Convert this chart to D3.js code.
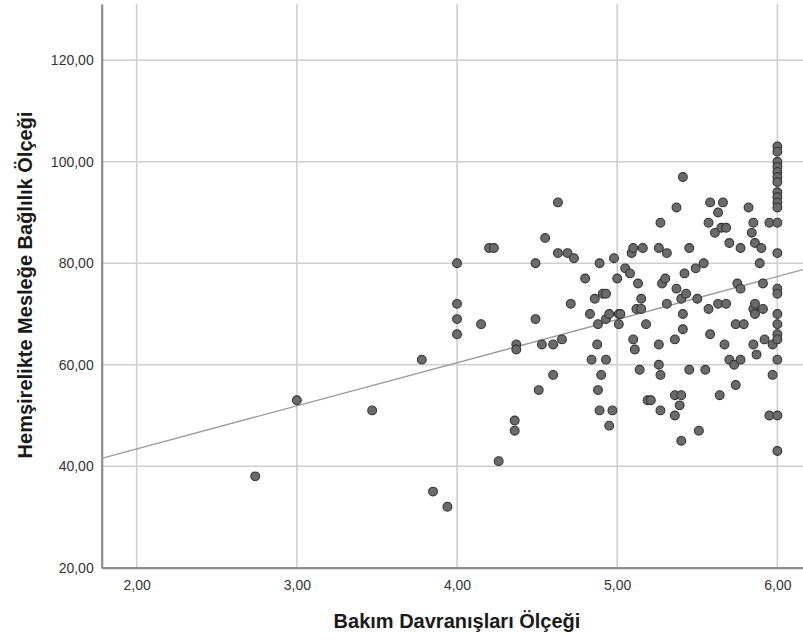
<!DOCTYPE html>
<html>
<head>
<meta charset="utf-8">
<script src="https://d3js.org/d3.v7.min.js"></script>
<style>
  body { margin: 0; background: #fff; }
  svg { display: block; }
</style>
</head>
<body>
<script>
// Bakım Davranışları Ölçeği (x) vs Hemşirelikte Mesleğe Bağlılık Ölçeği (y)
var bakim = [2.74, 3.00, 3.47, 3.78, 3.85, 3.94,
  4.00, 4.00, 4.00, 4.00, 4.15, 4.20, 4.23, 4.26,
  4.36, 4.36, 4.37, 4.37, 4.49, 4.49, 4.51, 4.53, 4.55,
  4.60, 4.60, 4.63, 4.63, 4.655, 4.69, 4.71, 4.73,
  4.80, 4.83, 4.84, 4.86, 4.875, 4.88, 4.88, 4.89, 4.89, 4.90,
  4.91, 4.93, 4.93, 4.93, 4.95, 4.95, 4.97, 4.98,
  5.00, 5.01, 5.02, 5.01, 5.05, 5.08, 5.09, 5.10, 5.10, 5.11,
  5.12, 5.15, 5.15, 5.13, 5.14, 5.16, 5.18, 5.19, 5.21,
  5.26, 5.26, 5.26, 5.27, 5.27, 5.27, 5.28, 5.30,
  5.31, 5.31, 5.36, 5.36, 5.36, 5.37, 5.37, 5.39, 5.40, 5.40, 5.40,
  5.41, 5.41, 5.41, 5.42, 5.43, 5.45, 5.45,
  5.49, 5.50, 5.51, 5.54, 5.55, 5.57, 5.57, 5.58, 5.58,
  5.61, 5.63, 5.63, 5.64, 5.65, 5.66, 5.67, 5.68, 5.68,
  5.70, 5.70, 5.73, 5.74, 5.74, 5.75, 5.77, 5.77, 5.77, 5.79,
  5.82, 5.84, 5.85, 5.85, 5.85, 5.86, 5.86, 5.86, 5.87,
  5.89, 5.90, 5.91, 5.91, 5.92, 5.95, 5.95, 5.97, 5.97,
  6, 6, 6, 6, 6, 6, 6, 6, 6, 6, 6, 6, 6, 6, 6, 6, 6, 6, 6, 6, 6, 6];

var baglilik = [38, 53, 51, 61, 35, 32,
  80, 72, 69, 66, 68, 83, 83, 41,
  49, 47, 64, 63, 80, 69, 55, 64, 85,
  64, 58, 92, 82, 65, 82, 72, 81,
  77, 70, 61, 73, 64, 68, 55, 80, 51, 58,
  74, 74, 69, 61, 70, 48, 51, 81,
  77, 70, 70, 68, 79, 78, 82, 83, 65, 63,
  71, 71, 73, 76, 59, 83, 68, 53, 53,
  83, 64, 60, 58, 51, 88, 76, 77,
  82, 72, 65, 54, 50, 91, 75, 52, 54, 73, 45,
  97, 70, 67, 78, 74, 83, 59,
  79, 73, 47, 80, 59, 88, 71, 92, 66,
  86, 90, 72, 54, 87, 92, 64, 87, 72,
  84, 61, 60, 68, 56, 76, 75, 83, 61, 68,
  91, 86, 88, 71, 64, 84, 72, 70, 62,
  80, 83, 76, 71, 65, 88, 50, 64, 58,
  103, 102, 100, 99, 98, 97, 96, 94, 93, 92, 91, 88, 82, 75, 74, 70, 68, 66, 65, 61, 50, 43];

var xTicks = [2, 3, 4, 5, 6];
var yTicks = [20, 40, 60, 80, 100, 120];

// fit line: y = a + b*x
var lineA = 26.4;
var lineB = 8.5;

var width = 803, height = 642;
var margin = {top: 4, right: 0, bottom: 74.3, left: 101.7};

var svg = d3.select("body").append("svg")
  .attr("width", width)
  .attr("height", height);

var x = d3.scaleLinear()
  .domain([1.7815, 6.16])
  .range([margin.left, width - margin.right]);

var y = d3.scaleLinear()
  .domain([20, 131.1])
  .range([height - margin.bottom, margin.top]);

var fmt = function(d) { return d3.format(".2f")(d).replace(".", ","); };

// grid
svg.append("g").selectAll("line")
  .data(xTicks).join("line")
  .attr("x1", d => x(d)).attr("x2", d => x(d))
  .attr("y1", y.range()[0]).attr("y2", y.range()[1])
  .attr("stroke", "#cfcfcf").attr("stroke-width", 1.6);

svg.append("g").selectAll("line")
  .data(yTicks).join("line")
  .attr("y1", d => y(d)).attr("y2", d => y(d))
  .attr("x1", x.range()[0]).attr("x2", x.range()[1])
  .attr("stroke", "#cfcfcf").attr("stroke-width", 1.6);

// axes
var ejeX = d3.axisBottom(x).tickValues(xTicks).tickSize(0).tickPadding(12).tickFormat(fmt);
var gx = svg.append("g")
  .attr("transform", "translate(0," + y(20) + ")")
  .call(ejeX);
gx.select(".domain").attr("stroke", "#8c8c8c").attr("stroke-width", 2.2);

var ejeY = d3.axisLeft(y).tickValues(yTicks).tickSize(0).tickPadding(8).tickFormat(fmt);
var gy = svg.append("g")
  .attr("transform", "translate(" + margin.left + ",0)")
  .call(ejeY);
gy.select(".domain").attr("stroke", "#8c8c8c").attr("stroke-width", 2.2);

svg.selectAll(".tick text")
  .attr("fill", "#333")
  .style("font-family", "Arial, 'Liberation Sans', sans-serif")
  .style("font-size", "14px");

// fit line
var x0 = x.domain()[0], x1 = x.domain()[1];
svg.append("line")
  .attr("x1", x(x0)).attr("y1", y(lineA + lineB * x0))
  .attr("x2", x(x1)).attr("y2", y(lineA + lineB * x1))
  .attr("stroke", "#9a9a9a").attr("stroke-width", 1.4);

// points
var puntos = bakim.map((d, i) => ({b: d, h: baglilik[i]}));
svg.append("g").selectAll("circle")
  .data(puntos).join("circle")
  .attr("cx", d => x(d.b))
  .attr("cy", d => y(d.h))
  .attr("r", 4.4)
  .attr("fill", "#6b6b6b")
  .attr("stroke", "#333")
  .attr("stroke-width", 1.1);

// titles
svg.append("text")
  .attr("x", 457).attr("y", 628)
  .attr("text-anchor", "middle")
  .style("font-family", "Arial, 'Liberation Sans', sans-serif")
  .style("font-weight", "bold").style("font-size", "20px")
  .attr("fill", "#1a1a1a")
  .text("Bakım Davranışları Ölçeği");

svg.append("text")
  .attr("transform", "translate(32,285) rotate(-90)")
  .attr("text-anchor", "middle")
  .style("font-family", "Arial, 'Liberation Sans', sans-serif")
  .style("font-weight", "bold").style("font-size", "20px")
  .attr("fill", "#1a1a1a")
  .text("Hemşirelikte Mesleğe Bağlılık Ölçeği");
</script>
</body>
</html>
